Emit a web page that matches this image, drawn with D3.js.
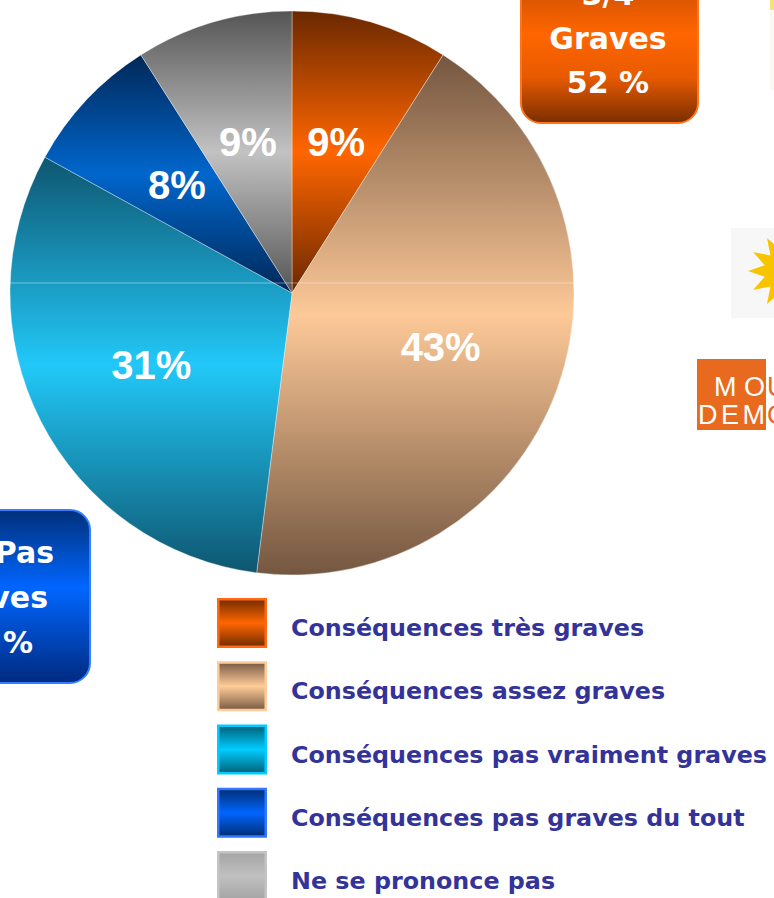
<!doctype html>
<meta charset="utf-8">
<style>
body { margin: 0; background: #fff; }
svg { display: block; }
.lbl { font-family: "Liberation Sans", Arial, sans-serif; font-weight: bold; font-size: 40px; fill: #fff; }
.key { font-family: "DejaVu Sans", Tahoma, sans-serif; font-weight: bold; font-size: 23.8px; fill: #333399; }
.box { font-family: "DejaVu Sans", Tahoma, sans-serif; font-weight: bold; font-size: 30px; fill: #fff; }
.logo { font-family: "Liberation Sans", Arial, sans-serif; font-size: 27px; }
</style>
<body>
<div id="viz"></div>
<script src="https://cdnjs.cloudflare.com/ajax/libs/d3/7.8.5/d3.min.js"></script>
<script>
// data
var categories = ["Conséquences très graves", "Conséquences assez graves",
    "Conséquences pas vraiment graves", "Conséquences pas graves du tout", "Ne se prononce pas"];
var values = [9, 43, 31, 8, 9];
var sliceLabels = ["9%", "43%", "31%", "8%", "9%"];
var graveLines = ["3/4", "Graves", "52 %"];
var pasGraveLines = ["Pas", "Graves", "39 %"];

// colours
var sliceLight = ["#ff6600", "#fdc998", "#22c8f8", "#0066cc", "#c2c2c2"];
var sliceDark = ["#6a2800", "#745640", "#0e5670", "#002858", "#555555"];
var keyLight = ["#ff6600", "#ffcc99", "#00ccff", "#0066ff", "#c0c0c0"];
var keyDark = ["#7a2e00", "#806048", "#006680", "#00307a", "#a6a6a6"];
var keyEdge = ["#ff6a10", "#ffcc99", "#00ccff", "#3377ff", "#c4c4c4"];

var W = 774, H = 898;
var cx = 292, cy = 293, R = 282;

var svg = d3.select("#viz").append("svg").attr("width", W).attr("height", H);
var defs = svg.append("defs");

function vgrad(id, stops) {
    var g = defs.append("linearGradient").attr("id", id)
        .attr("x1", 0).attr("y1", 0).attr("x2", 0).attr("y2", 1);
    stops.forEach(function(s) {
        g.append("stop").attr("offset", s[0]).attr("stop-color", s[1]);
    });
}
values.forEach(function(v, i) {
    vgrad("sl" + i, [[0, sliceDark[i]], [0.5, sliceLight[i]], [1, sliceDark[i]]]);
    vgrad("ky" + i, [[0, keyDark[i]], [0.5, keyLight[i]], [1, keyDark[i]]]);
});
vgrad("orangeBox", [[0, "#c04a00"], [0.42, "#ff6600"], [0.7, "#e85a00"], [1, "#7a2e00"]]);
vgrad("blueBox", [[0, "#00307a"], [0.45, "#0066ff"], [1, "#002a80"]]);

// pie
var pie = d3.pie().sort(null).value(function(d) { return d; });
var arcs = pie(values);
var arc = d3.arc().innerRadius(0).outerRadius(R);
var labelArc = d3.arc().innerRadius(158).outerRadius(158);

var g = svg.append("g").attr("transform", "translate(" + cx + "," + cy + ")");
g.selectAll("path.slice").data(arcs).enter().append("path")
    .attr("class", "slice")
    .attr("d", arc)
    .attr("fill", function(d, i) { return "url(#sl" + i + ")"; })
    .attr("stroke", "rgba(255,255,255,0.35)")
    .attr("stroke-width", 1);

// faint seam across the pie
defs.append("clipPath").attr("id", "pieClip").append("circle").attr("r", R);
g.append("line").attr("clip-path", "url(#pieClip)")
    .attr("x1", -R).attr("x2", R).attr("y1", -10).attr("y2", -10)
    .attr("stroke", "#fff").attr("stroke-opacity", 0.4).attr("stroke-width", 1);

g.selectAll("text.lbl").data(arcs).enter().append("text")
    .attr("class", "lbl")
    .attr("text-anchor", "middle")
    .attr("dy", "0.36em")
    .attr("transform", function(d) { return "translate(" + labelArc.centroid(d) + ")"; })
    .text(function(d, i) { return sliceLabels[i]; });

// summary boxes
svg.append("rect").attr("x", 521).attr("y", -30).attr("width", 177).attr("height", 153)
    .attr("rx", 20).attr("fill", "url(#orangeBox)").attr("stroke", "#ff7418").attr("stroke-width", 2);
svg.selectAll("text.top").data(graveLines).enter().append("text")
    .attr("class", "box top").attr("text-anchor", "middle")
    .attr("x", 608).attr("y", function(d, i) { return 5 + i * 44; })
    .text(function(d) { return d; });

svg.append("rect").attr("x", -40).attr("y", 510).attr("width", 130).attr("height", 173)
    .attr("rx", 20).attr("fill", "url(#blueBox)").attr("stroke", "#3380ff").attr("stroke-width", 2);
var pasEnds = [54, 48, 33];
svg.selectAll("text.left").data(pasGraveLines).enter().append("text")
    .attr("class", "box left").attr("text-anchor", "end")
    .attr("x", function(d, i) { return pasEnds[i]; })
    .attr("y", function(d, i) { return 563 + i * 45; })
    .text(function(d) { return d; });

// legend
var ky = d3.scaleLinear().domain([0, categories.length - 1]).range([598, 851]);
var key = svg.selectAll("g.key").data(categories).enter().append("g")
    .attr("transform", function(d, i) { return "translate(217," + ky(i) + ")"; });
key.append("rect").attr("width", 50).attr("height", 50)
    .attr("fill", function(d, i) { return keyEdge[i]; });
key.append("rect").attr("x", 2.5).attr("y", 2.5).attr("width", 45).attr("height", 45)
    .attr("fill", function(d, i) { return "url(#ky" + i + ")"; });
key.append("text").attr("class", "key").attr("x", 74).attr("y", 38)
    .text(function(d) { return d; });

// logos peeking in on the right
svg.append("rect").attr("x", 770).attr("y", 0).attr("width", 4).attr("height", 90).attr("fill", "#fafaf0");
svg.append("rect").attr("x", 770).attr("y", 0).attr("width", 4).attr("height", 10).attr("fill", "#f5e27a");
svg.append("rect").attr("x", 731).attr("y", 228).attr("width", 43).attr("height", 90).attr("fill", "#f7f7f7");
var star = d3.range(24).map(function(k) {
    var a = k * Math.PI / 12, r = k % 2 ? 22 : 38;
    return [786 + r * Math.sin(a), 271 - r * Math.cos(a)];
});
svg.append("path").attr("d", "M" + star.join("L") + "Z").attr("fill", "#f8c400");
svg.append("rect").attr("x", 697).attr("y", 359).attr("width", 69).attr("height", 71).attr("fill", "#e86a1e");
var mo = svg.append("text").attr("class", "logo").attr("y", 396);
mo.append("tspan").attr("x", 714).attr("fill", "#fff").attr("textLength", 51).text("MO");
mo.append("tspan").attr("x", 767).attr("fill", "#e86a1e").text("U");
var dem = svg.append("text").attr("class", "logo").attr("y", 424);
dem.append("tspan").attr("x", 698).attr("fill", "#fff").attr("textLength", 67).text("DEM");
dem.append("tspan").attr("x", 767).attr("fill", "#e86a1e").text("O");
</script>
</body>
</html>
